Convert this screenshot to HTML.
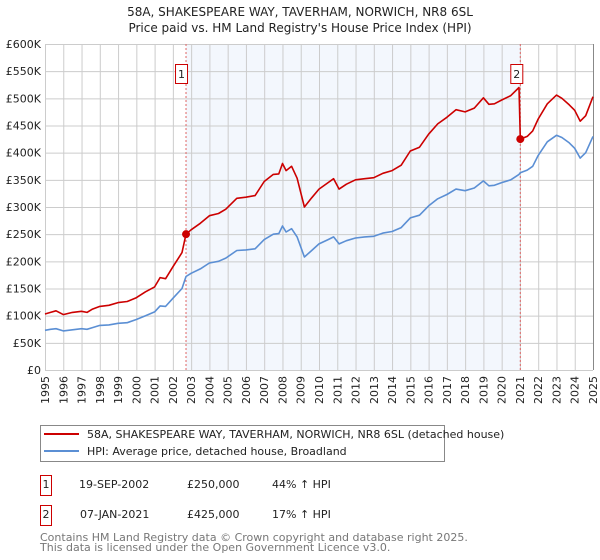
<!DOCTYPE html>
<html><head><meta charset="utf-8">
<style>
body{margin:0;background:#fff;font-family:"DejaVu Sans","Liberation Sans",sans-serif;}
#wrap{position:relative;width:600px;height:560px;overflow:hidden;}
svg text{font-family:"DejaVu Sans","Liberation Sans",sans-serif;}
</style></head>
<body>
<div id="wrap">
<svg id="chart" width="600" height="560">
<text x="300" y="16" text-anchor="middle" font-size="12" fill="#222">58A, SHAKESPEARE WAY, TAVERHAM, NORWICH, NR8 6SL</text>
<text x="300" y="32" text-anchor="middle" font-size="12" fill="#222">Price paid vs. HM Land Registry's House Price Index (HPI)</text>
<g id="grid"></g><g id="axes"></g><g id="series"></g>
<rect x="40.5" y="425.5" width="404" height="36" fill="#fff" stroke="#888"/>
<line x1="44" y1="434" x2="79" y2="434" stroke="#cc0000" stroke-width="2"/>
<text x="87" y="438" font-size="11" fill="#222">58A, SHAKESPEARE WAY, TAVERHAM, NORWICH, NR8 6SL (detached house)</text>
<line x1="44" y1="451" x2="79" y2="451" stroke="#5b8fd4" stroke-width="2"/>
<text x="87" y="455" font-size="11" fill="#222">HPI: Average price, detached house, Broadland</text>
<rect x="40.5" y="475.5" width="11" height="20" fill="#fff" stroke="#cc0000"/>
<text x="46" y="488" font-size="11" text-anchor="middle" fill="#222">1</text>
<text x="79" y="488" font-size="11" fill="#222">19-SEP-2002</text>
<text x="187" y="488" font-size="11" fill="#222">£250,000</text>
<text x="272" y="488" font-size="11" fill="#222">44% ↑ HPI</text>
<rect x="40.5" y="505.5" width="11" height="20" fill="#fff" stroke="#cc0000"/>
<text x="46" y="518" font-size="11" text-anchor="middle" fill="#222">2</text>
<text x="80" y="518" font-size="11" fill="#222">07-JAN-2021</text>
<text x="187" y="518" font-size="11" fill="#222">£425,000</text>
<text x="272" y="518" font-size="11" fill="#222">17% ↑ HPI</text>
<text x="40" y="541" font-size="11" fill="#777">Contains HM Land Registry data © Crown copyright and database right 2025.</text>
<text x="40" y="551" font-size="11" fill="#777">This data is licensed under the Open Government Licence v3.0.</text>
</svg>
</div>
<script>
const hpiYears=[1995,1995.3,1995.6,1996,1996.5,1997,1997.3,1997.6,1998,1998.5,1999,1999.5,2000,2000.5,2001,2001.3,2001.6,2002,2002.5,2002.72,2003,2003.5,2004,2004.5,2004.9,2005.5,2006,2006.5,2007,2007.5,2007.8,2008,2008.2,2008.5,2008.8,2009.2,2009.6,2010,2010.5,2010.8,2011.1,2011.5,2012,2012.5,2013,2013.5,2014,2014.5,2015,2015.5,2016,2016.5,2017,2017.5,2018,2018.5,2019,2019.3,2019.6,2020,2020.5,2020.95,2021.02,2021.4,2021.7,2022,2022.5,2023,2023.3,2023.7,2024,2024.3,2024.6,2025];
const hpiValues=[73,75,76,72,74,76,75,78,82,83,86,87,93,100,107,118,117,132,150,172,178,186,197,200,206,220,221,223,240,250,251,265,254,260,245,208,220,232,240,245,232,238,243,245,246,252,255,262,280,285,302,315,323,333,330,335,348,339,340,345,350,360,363,368,375,395,420,432,428,418,408,390,400,430];
const propYears=[1995,1995.3,1995.6,1996,1996.5,1997,1997.3,1997.6,1998,1998.5,1999,1999.5,2000,2000.5,2001,2001.3,2001.6,2002,2002.5,2002.72,2003,2003.5,2004,2004.5,2004.9,2005.5,2006,2006.5,2007,2007.5,2007.8,2008,2008.2,2008.5,2008.8,2009.2,2009.6,2010,2010.5,2010.8,2011.1,2011.5,2012,2012.5,2013,2013.5,2014,2014.5,2015,2015.5,2016,2016.5,2017,2017.5,2018,2018.5,2019,2019.3,2019.6,2020,2020.5,2020.95,2021.02,2021.4,2021.7,2022,2022.5,2023,2023.3,2023.7,2024,2024.3,2024.6,2025];
const propValues=[103,106,109,102,106,108,106,112,117,119,124,126,133,144,153,170,168,190,216,250,258,270,284,288,296,316,318,321,347,360,361,380,367,375,353,300,317,333,345,352,333,342,350,352,354,362,367,377,403,410,434,453,465,479,475,482,501,489,490,497,505,520,425,430,440,462,490,506,500,488,478,458,468,503];
const yTicks=[0,50,100,150,200,250,300,350,400,450,500,550,600];
const xTicks=[1995,1996,1997,1998,1999,2000,2001,2002,2003,2004,2005,2006,2007,2008,2009,2010,2011,2012,2013,2014,2015,2016,2017,2018,2019,2020,2021,2022,2023,2024,2025];
const sales=[{n:"1",year:2002.72,value:250},{n:"2",year:2021.02,value:425}];
const X0=45,X1=593,Y0=370,Y1=44;
const xs=y=>X0+(y-1995)/30*(X1-X0);
const ys=v=>Y0-v/600*(Y0-Y1);
const NS="http://www.w3.org/2000/svg";
function mk(t,a,parent){const e=document.createElementNS(NS,t);for(const k in a)e.setAttribute(k,a[k]);parent.appendChild(e);return e;}
const grid=document.getElementById('grid'),axes=document.getElementById('axes'),ser=document.getElementById('series');
const shade=mk('rect',{x:xs(sales[0].year),y:Y1,width:xs(sales[1].year)-xs(sales[0].year),height:Y0-Y1,fill:'#eef3fc',opacity:0.7},grid);


yTicks.forEach(v=>{
  const l=mk('line',{x1:X0,x2:X1,y1:ys(v)+0.5,y2:ys(v)+0.5,stroke:'#cccccc','stroke-width':1},grid);
  
  
  const t=mk('text',{x:X0-4,y:ys(v)+4,'text-anchor':'end','font-size':11,fill:'#222'},axes);
  
  
  t.textContent=v===0?'£0':'£'+v+'K';
});
xTicks.forEach(y=>{
  const l=mk('line',{x1:xs(y)+0.5,x2:xs(y)+0.5,y1:Y1,y2:Y0,stroke:'#cccccc','stroke-width':1},grid);
  
  
  const t=mk('text',{x:0,y:0,'text-anchor':'end','font-size':11,fill:'#222',transform:`translate(${xs(y)+4},${Y0+6}) rotate(-90)`},axes);
  
  
  t.textContent=y;
});
sales.forEach(s=>{
  const l=mk('line',{x1:xs(s.year),x2:xs(s.year),y1:Y1,y2:Y0,stroke:'#e06666','stroke-width':1,'stroke-dasharray':'2,2'},ser);
  
  
});
function path(xsArr,vals,color,name){
  const d=xsArr.map((y,i)=>(i?'L':'M')+xs(y).toFixed(1)+','+ys(vals[i]).toFixed(1)).join('');
  const p=mk('path',{d:d,fill:'none',stroke:color,'stroke-width':1.6,'stroke-linejoin':'round'},ser);
  
  
}
path(hpiYears,hpiValues,'#5b8fd4','hpi-line');
path(propYears,propValues,'#cc0000','property-price-line');
sales.forEach(s=>{
  const c=mk('circle',{cx:xs(s.year),cy:ys(s.value),r:4,fill:'#cc0000'},ser);
  
  
  const bx=xs(s.year)-(s.n==="1"?11:10);
  const r=mk('rect',{x:bx+0.5,y:64.5,width:12,height:19,fill:'#fff',stroke:'#cc0000'},ser);
  
  
  const t=mk('text',{x:bx+6.5,y:78,'text-anchor':'middle','font-size':11,fill:'#222'},ser);
  
  
  t.textContent=s.n;
});
const ax=mk('line',{x1:X1+0.5,x2:X1+0.5,y1:Y1,y2:Y0,stroke:'#888'},axes);


</script>
</body></html>
